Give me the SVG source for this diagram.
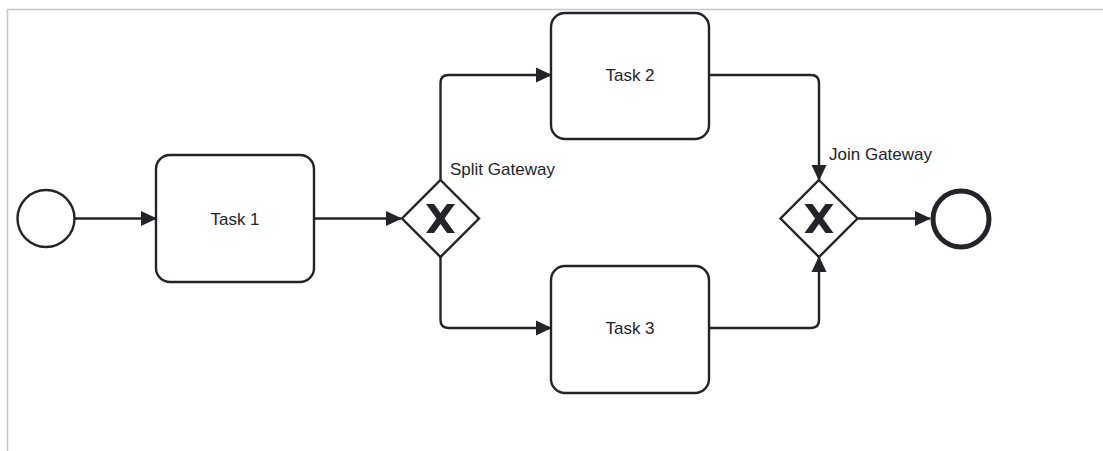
<svg xmlns="http://www.w3.org/2000/svg" width="1103" height="451" viewBox="0 0 1103 451">
  <style>
    .frame { stroke: #c8c8c8; stroke-width: 1.6; fill: none; }
    .shape { fill: #ffffff; stroke: #22242a; stroke-width: 2.4; }
    .end { fill: #ffffff; stroke: #22242a; stroke-width: 5; }
    .marker-x { fill: #22242a; stroke: none; }
    .flow { fill: none; stroke: #22242a; stroke-width: 2.4; stroke-linejoin: round; marker-end: url(#arrow); }
    .label { font-family: "Liberation Sans", Arial, sans-serif; font-size: 17px; fill: #22242a; }
    .center { text-anchor: middle; }
  </style>
  <defs>
    <marker id="arrow" markerUnits="userSpaceOnUse" viewBox="0 0 16 16" markerWidth="16" markerHeight="16" refX="15" refY="8" orient="auto">
      <path d="M0,0.5 L16,8 L0,15.5 Z" fill="#22242a"/>
    </marker>
    <!-- exclusive gateway cross, centred on the origin -->
    <path id="xcross" d="M-14.5,-14.5 L-6.5,-14.5 L0,-5.5 L6.5,-14.5 L14.5,-14.5 L4,0 L14.5,14.5 L6.5,14.5 L0,5.5 L-6.5,14.5 L-14.5,14.5 L-4,0 Z"/>
  </defs>

  <rect width="1103" height="451" fill="#ffffff"/>
  <path class="frame" d="M7.5,451 L7.5,9.5 L1103,9.5"/>

  <!-- sequence flows -->
  <g id="connectors">
    <path class="flow" d="M75,218.5 L156,218.5"/>
    <path class="flow" d="M314,218.5 L401,218.5"/>
    <path class="flow" d="M440.5,180 L440.5,83 Q440.5,75 448.5,75 L551,75"/>
    <path class="flow" d="M440.5,257 L440.5,320 Q440.5,328 448.5,328 L551,328"/>
    <path class="flow" d="M709,75 L811,75 Q819,75 819,83 L819,180"/>
    <path class="flow" d="M709,328 L811,328 Q819,328 819,320 L819,257"/>
    <path class="flow" d="M858,218.5 L930,218.5"/>
  </g>

  <g id="start-event">
    <circle class="shape" cx="46" cy="218.5" r="28.5"/>
  </g>

  <g id="task-1">
    <rect class="shape" x="156" y="155" width="158" height="127" rx="14"/>
    <text class="label center" x="235" y="224.5">Task 1</text>
  </g>

  <g id="split-gateway">
    <path class="shape" d="M440.5,180 L479,218.5 L440.5,257 L402,218.5 Z"/>
    <use class="marker-x" href="#xcross" x="440.5" y="218.5"/>
    <text class="label" x="450" y="175">Split Gateway</text>
  </g>

  <g id="task-2">
    <rect class="shape" x="551" y="13" width="158" height="126" rx="14"/>
    <text class="label center" x="630" y="81">Task 2</text>
  </g>

  <g id="task-3">
    <rect class="shape" x="551" y="266" width="158" height="127" rx="14"/>
    <text class="label center" x="630" y="334">Task 3</text>
  </g>

  <g id="join-gateway">
    <path class="shape" d="M819,180 L857.5,218.5 L819,257 L780.5,218.5 Z"/>
    <use class="marker-x" href="#xcross" x="819" y="218.5"/>
    <text class="label" x="829" y="160">Join Gateway</text>
  </g>

  <g id="end-event">
    <circle class="end" cx="961" cy="219" r="28"/>
  </g>
</svg>
